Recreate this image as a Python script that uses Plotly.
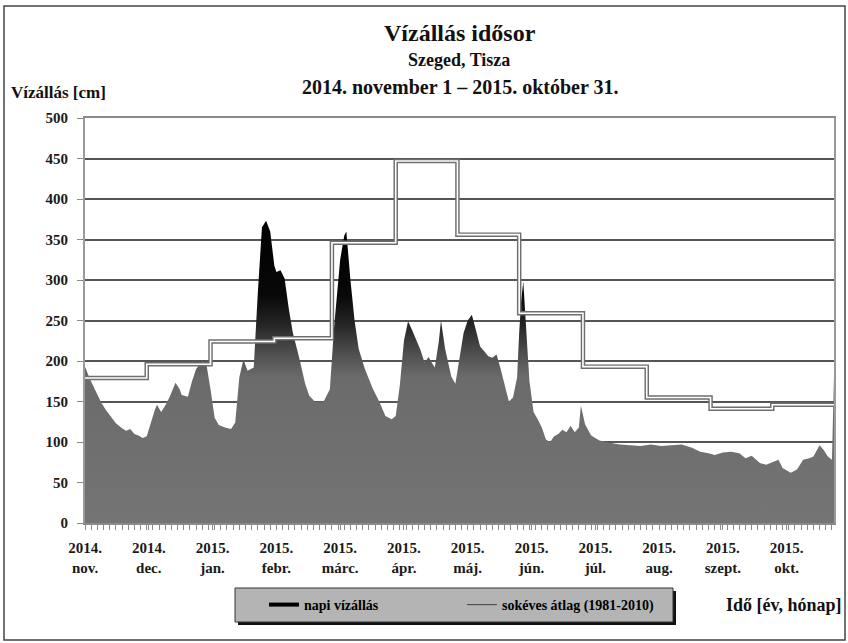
import plotly.graph_objects as go

# ---- data ----
day_index = [0, 2, 5, 8, 10, 13, 15, 18, 20, 22, 24, 26, 28, 30, 32, 34, 35, 37, 39, 41, 44, 46, 47, 50,
             52, 54, 57, 59, 61, 63, 65, 68, 71, 73, 75, 77, 79, 82, 84, 86, 88, 90, 92, 93, 95, 97, 99,
             101, 104, 107, 109, 112, 116, 119, 121, 124, 126, 127, 129, 131, 133, 136, 140, 143, 146,
             149, 151, 153, 155, 157, 159, 161, 163, 165, 167, 168, 170, 172, 173, 175, 178, 180, 182,
             184, 186, 188, 190, 192, 194, 196, 198, 200, 202, 204, 206, 208, 210, 211, 212, 213, 214,
             215, 216, 218, 220, 222, 224, 226, 228, 230, 232, 234, 236, 238, 240, 241, 243, 246, 250,
             255, 260, 265, 270, 275, 280, 285, 290, 295, 299, 303, 306, 310, 314, 318, 321, 324, 328,
             331, 334, 337, 339, 343, 346, 349, 352, 354, 357, 359, 361, 363, 364]
napi_vizallas = [193, 180, 164, 148, 140, 130, 123, 117, 114, 116, 110, 108, 105, 107, 124, 140, 146, 137,
                 145, 155, 173, 165, 158, 156, 175, 190, 200, 196, 165, 130, 121, 118, 116, 124, 180, 202,
                 188, 192, 285, 365, 373, 360, 318, 310, 312, 302, 265, 235, 205, 172, 157, 149, 150, 165,
                 240, 325, 355, 360, 300, 250, 215, 190, 165, 150, 132, 128, 132, 170, 225, 249, 238, 225,
                 214, 198, 205, 200, 192, 225, 250, 215, 181, 172, 205, 235, 250, 257, 238, 218, 212, 206,
                 204, 208, 190, 170, 150, 155, 180, 235, 275, 298, 262, 215, 175, 137, 128, 118, 103, 100,
                 107, 110, 115, 112, 120, 112, 118, 145, 122, 108, 102, 99, 97, 96, 95, 97, 95, 96, 97, 93,
                 88, 86, 84, 87, 88, 86, 80, 83, 74, 72, 75, 78, 68, 62, 66, 78, 80, 82, 96, 90, 82, 78, 182]

month_start_day = [0, 30, 61, 92, 120, 151, 181, 211, 242, 273, 304, 334, 364]
sokeves_atlag = [179, 196, 224, 228, 346, 447, 356, 259, 193, 155, 141, 146]

tick_days = [0, 31, 62, 93, 124, 155, 186, 217, 248, 279, 310, 341]
tick_labels = ["2014.<br>nov.", "2014.<br>dec.", "2015.<br>jan.", "2015.<br>febr.", "2015.<br>márc.",
               "2015.<br>ápr.", "2015.<br>máj.", "2015.<br>jún.", "2015.<br>júl.", "2015.<br>aug.",
               "2015.<br>szept.", "2015.<br>okt."]

title_main = "Vízállás idősor"
title_sub1 = "Szeged, Tisza"
title_sub2 = "2014. november 1 – 2015. október 31."
y_title = "Vízállás [cm]"
x_title = "Idő [év, hónap]"

FONT = "Liberation Serif"
W, H = 848, 643
L, R, T, B = 85, 14, 118, 120
PW, PH = W - L - R, H - T - B


def px(x):
    return (x - L) / PW


def py(y):
    return (H - B - y) / PH


fig = go.Figure()

# daily water level, area with vertical gradient
fig.add_trace(go.Scatter(
    x=day_index, y=napi_vizallas, mode="lines", fill="tozeroy",
    line=dict(width=0, color="#6e6e6e"),
    fillgradient=dict(type="vertical", start=0, stop=375,
                      colorscale=[[0, "#747474"], [0.48, "#6b6b6b"], [0.57, "#4a4a4a"],
                                  [0.65, "#262626"], [0.75, "#080808"], [1, "#000000"]]),
    showlegend=False, hoverinfo="skip"))

# multi-year monthly average: double line look
step_y = sokeves_atlag + [sokeves_atlag[-1]]
fig.add_trace(go.Scatter(
    x=month_start_day, y=step_y, mode="lines", line_shape="hv",
    line=dict(color="#6e6e6e", width=4.5), showlegend=False, hoverinfo="skip"))
fig.add_trace(go.Scatter(
    x=month_start_day, y=step_y, mode="lines", line_shape="hv",
    line=dict(color="#ffffff", width=1.6), showlegend=False, hoverinfo="skip"))

# legend entries
fig.add_trace(go.Scatter(x=[None], y=[None], mode="lines", name="napi vízállás",
                         line=dict(color="#000000", width=4)))
fig.add_trace(go.Scatter(x=[None], y=[None], mode="lines", name="sokéves átlag (1981-2010)",
                         line=dict(color="#555555", width=1.2)))

TICKFONT = dict(family=FONT, size=15, color="#1a1a1a", weight="bold")

fig.update_xaxes(
    range=[0, 364], tickmode="array", tickvals=tick_days, ticktext=tick_labels,
    showgrid=False, zeroline=False, showline=True, linecolor="#8a8a8a", linewidth=2,
    mirror=True, ticks="outside", ticklen=5, tickcolor="#8a8a8a", ticklabelstandoff=5,
    minor=dict(tickmode="linear", tick0=0, dtick=3, ticks="outside", ticklen=5, tickcolor="#8a8a8a"),
    tickfont=TICKFONT, fixedrange=True)
fig.update_yaxes(
    range=[0, 500], dtick=50, showgrid=True, gridcolor="#555555", gridwidth=1.6,
    zeroline=False, showline=True, linecolor="#9a9a9a", linewidth=2, mirror=True,
    ticks="outside", ticklen=6, tickcolor="#8a8a8a", ticklabelstandoff=6,
    tickfont=TICKFONT, fixedrange=True)

shapes = [
    # outer frame
    dict(type="rect", xref="paper", yref="paper", x0=px(4), x1=px(845), y0=py(640), y1=py(6),
         line=dict(color="#444444", width=1.5), fillcolor="rgba(0,0,0,0)", layer="below"),
    # legend shadow and box
    dict(type="rect", xref="paper", yref="paper", x0=px(238), x1=px(676), y0=py(625), y1=py(591),
         line=dict(width=0), fillcolor="#111111", layer="below"),
    dict(type="rect", xref="paper", yref="paper", x0=px(235), x1=px(673), y0=py(622), y1=py(588),
         line=dict(color="#333333", width=1), fillcolor="#b4b4b4", layer="below"),
]


def ann(text, x, y, size, xanchor="center"):
    return dict(text="<b>" + text + "</b>", x=px(x), y=py(y), xref="paper", yref="paper",
                xanchor=xanchor, yanchor="middle", showarrow=False,
                font=dict(family=FONT, size=size, color="#111111"))


annotations = [
    ann(title_main, 460, 33, 24),
    ann(title_sub1, 459, 60, 18),
    ann(title_sub2, 460, 87, 20),
    ann(y_title, 9, 93, 17, "left"),
    ann(x_title, 844, 605, 18, "right"),
]

fig.update_layout(
    width=W, height=H, margin=dict(l=L, r=R, t=T, b=B, autoexpand=False),
    paper_bgcolor="#ffffff", plot_bgcolor="#ffffff",
    shapes=shapes, annotations=annotations,
    legend=dict(orientation="h", x=px(264), y=py(605), xanchor="left", yanchor="middle",
                bgcolor="rgba(0,0,0,0)", borderwidth=0, itemwidth=30,
                entrywidth=153, entrywidthmode="pixels",
                font=dict(family=FONT, size=14, color="#000000", weight="bold")),
    hovermode=False,
)

fig.write_html("out.html", config={"displayModeBar": False},
               post_script="document.body.style.margin='0px';document.body.style.overflow='hidden';")
